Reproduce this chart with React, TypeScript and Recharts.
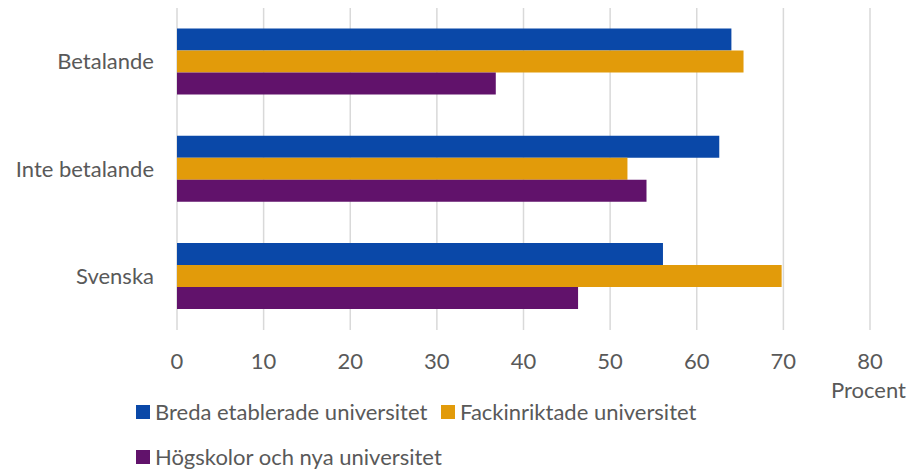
import { Bar, BarChart, CartesianGrid, Label, XAxis, YAxis } from "recharts";

const categories = ["Betalande", "Inte betalande", "Svenska"];
const breda = [64.0, 62.6, 56.1];
const fack = [65.4, 52.0, 69.8];
const hogskolor = [36.8, 54.2, 46.3];
const xTicks = [0, 10, 20, 30, 40, 50, 60, 70, 80];

const series = [
  { key: "breda", name: "Breda etablerade universitet", color: "#0A48A8" },
  { key: "fack", name: "Fackinriktade universitet", color: "#E29B0A" },
  { key: "hogskolor", name: "Högskolor och nya universitet", color: "#61126B" },
];

const data = categories.map((cat, i) => ({
  cat,
  breda: breda[i],
  fack: fack[i],
  hogskolor: hogskolor[i],
}));

const FONT = "Lato, 'Open Sans', sans-serif";
const TEXT = "#595959";
const FS = 22;

function ProcentLabel({ viewBox }: { viewBox?: { x: number; y: number; width: number } }) {
  if (!viewBox) return null;
  return (
    <text
      x={viewBox.x + viewBox.width + 36}
      y={viewBox.y + 68}
      textAnchor="end"
      fill={TEXT}
      fontSize={FS}
      fontFamily={FONT}
    >
      Procent
    </text>
  );
}

function LegendItem({ name, color, left, top }: { name: string; color: string; left: number; top: number }) {
  return (
    <div
      style={{
        position: "absolute",
        left,
        top,
        height: 26,
        display: "flex",
        alignItems: "center",
        gap: 5,
        fontSize: FS,
        lineHeight: "26px",
        color: TEXT,
        fontFamily: FONT,
        whiteSpace: "nowrap",
      }}
    >
      <span style={{ width: 14, height: 14, background: color, display: "inline-block" }} />
      {name}
    </div>
  );
}

export default function App() {
  return (
    <div style={{ position: "absolute", left: 0, top: 0, width: 919, height: 472, background: "#fff", overflow: "hidden" }}>
      <BarChart
        width={919}
        height={472}
        data={data}
        layout="vertical"
        margin={{ top: 8, right: 49, left: 0, bottom: 0 }}
        barCategoryGap="19%"
        barGap={0}
      >
        <CartesianGrid horizontal={false} stroke="#d9d9d9" strokeWidth={1.5} />
        <XAxis
          type="number"
          domain={[0, 80]}
          ticks={xTicks}
          axisLine={false}
          tickLine={false}
          tickSize={0}
          tickMargin={23}
          height={142}
          tick={{ fill: TEXT, fontSize: FS, fontFamily: FONT }}
        >
          <Label content={<ProcentLabel />} />
        </XAxis>
        <YAxis
          type="category"
          dataKey="cat"
          width={177}
          axisLine={false}
          tickLine={false}
          tickSize={0}
          tickMargin={23}
          tick={{ fill: TEXT, fontSize: FS, fontFamily: FONT }}
        />
        {series.map((s) => (
          <Bar key={s.key} dataKey={s.key} name={s.name} fill={s.color} isAnimationActive={false} />
        ))}
      </BarChart>
      <LegendItem name={series[0].name} color={series[0].color} left={136} top={399} />
      <LegendItem name={series[1].name} color={series[1].color} left={441} top={399} />
      <LegendItem name={series[2].name} color={series[2].color} left={136} top={444} />
    </div>
  );
}
